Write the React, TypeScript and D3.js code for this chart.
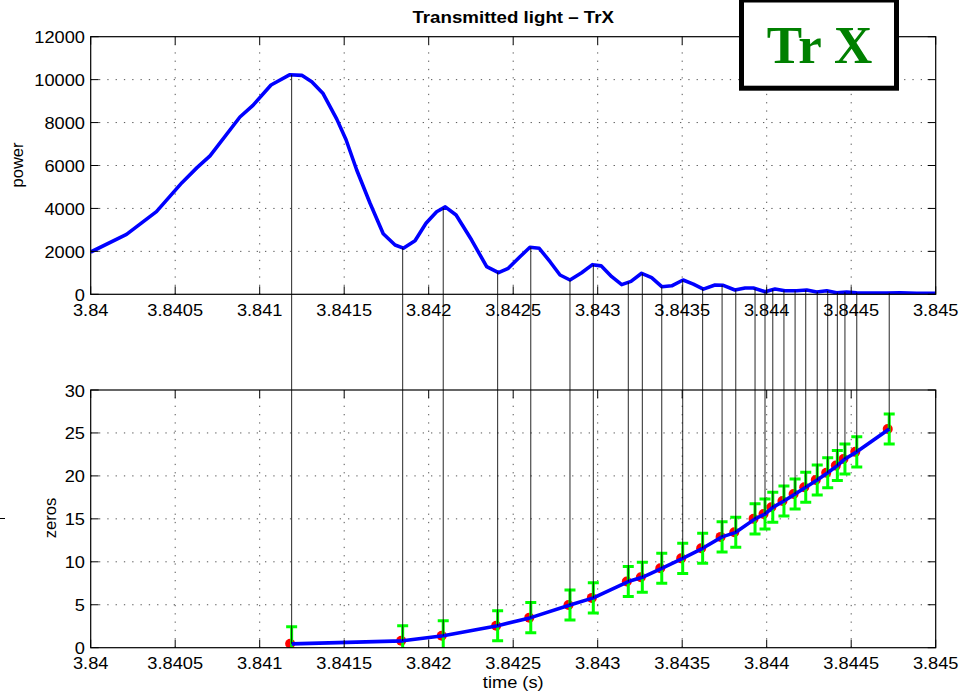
import React from 'react';
import * as d3 from 'd3';

// power curve
const curveTime = [
  3.84, 3.840212, 3.840389, 3.84054, 3.840629, 3.840706, 3.840883, 3.84096, 3.841067, 3.841179,
  3.841249, 3.841308, 3.841375, 3.841456, 3.841511, 3.841574, 3.841653, 3.841731, 3.841801, 3.84185,
  3.841919, 3.841984, 3.842047, 3.842098, 3.842162, 3.842254, 3.842343, 3.842413, 3.842471, 3.84254,
  3.842599, 3.842654, 3.842718, 3.842777, 3.842836, 3.842905, 3.842969, 3.84302, 3.843083, 3.843142,
  3.843197, 3.84326, 3.843319, 3.843379, 3.843438, 3.843505, 3.843566, 3.843625, 3.843694, 3.843743,
  3.843812, 3.843872, 3.843921, 3.84399, 3.844049, 3.844108, 3.844177, 3.844237, 3.844296, 3.844355,
  3.844414, 3.844473, 3.844532, 3.844611, 3.84471, 3.844789, 3.844887, 3.845
];
const curvePower = [
  1970, 2790, 3850, 5200, 5900, 6450, 8260, 8800, 9750, 10230,
  10200, 9900, 9350, 8160, 7200, 5790, 4240, 2820, 2296, 2150,
  2497, 3307, 3847, 4070, 3694, 2529, 1286, 1006, 1211, 1751,
  2189, 2143, 1518, 899, 666, 1006, 1380, 1325, 820, 450,
  600, 978, 773, 354, 395, 666, 473, 240, 433, 419,
  200, 293, 293, 121, 247, 168, 168, 200, 107, 168,
  75, 107, 75, 61, 61, 75, 47, 47
];

// extrema times and zero counts, lower panel
const zeroTime = [
  3.841189, 3.841846, 3.842086, 3.842408, 3.842604, 3.842836, 3.842974, 3.843181, 3.843264, 3.843379,
  3.843503, 3.843621, 3.843736, 3.843817, 3.843931, 3.84399, 3.844036, 3.844102, 3.844168, 3.844231,
  3.844299, 3.844361, 3.844418, 3.844463, 3.844533, 3.844725
];
const zeroCount = [
  0.45, 0.8, 1.4, 2.56, 3.5, 4.97, 5.8, 7.7, 8.2, 9.24,
  10.4, 11.57, 12.9, 13.43, 15.0, 15.56, 16.34, 17.08, 17.9, 18.67,
  19.52, 20.37, 21.2, 21.97, 22.8, 25.45
];
const zeroErr = [
  2.0, 1.75, 1.75, 1.75, 1.75, 1.75, 1.75, 1.75, 1.75, 1.75,
  1.75, 1.75, 1.75, 1.75, 1.75, 1.75, 1.75, 1.75, 1.75, 1.75,
  1.75, 1.75, 1.75, 1.75, 1.75, 1.75
];

const xTicks = [3.84, 3.8405, 3.841, 3.8415, 3.842, 3.8425, 3.843, 3.8435, 3.844, 3.8445, 3.845];
const xTickLabels = ['3.84', '3.8405', '3.841', '3.8415', '3.842', '3.8425', '3.843', '3.8435', '3.844', '3.8445', '3.845'];
const powerTicks = [0, 2000, 4000, 6000, 8000, 10000, 12000];
const zeroTicks = [0, 5, 10, 15, 20, 25, 30];

const W = 973;
const H = 693;
const L = 90.7;
const R = 935.7;
const FONT = '"Liberation Sans", Arial, Helvetica, sans-serif';
const SX = 1.14; // horizontal stretch of the lettering

const x = d3.scaleLinear().domain([3.84, 3.845]).range([L, R]);
const yP = d3.scaleLinear().domain([0, 12000]).range([294.3, 36.7]);
const yZ = d3.scaleLinear().domain([0, 30]).range([647.7, 390]);

const powerAt = (t: number) => {
  const i = Math.max(1, Math.min(curveTime.length - 1, d3.bisectLeft(curveTime, t)));
  const t0 = curveTime[i - 1], t1 = curveTime[i];
  const f = (t - t0) / (t1 - t0);
  return curvePower[i - 1] + f * (curvePower[i] - curvePower[i - 1]);
};

const SText = ({ x, y, anchor = 'middle', size = 16, weight = 'normal', children }: any) => (
  <text
    transform={`translate(${x},${y}) scale(${SX},1)`}
    textAnchor={anchor}
    fontSize={size}
    fontWeight={weight}
    fontFamily={FONT}
    fill="#000"
  >
    {children}
  </text>
);

const Panel = ({ y, ticks, id, children }: any) => {
  const [b, t] = y.range();
  const tick = 8;
  return (
    <g>
      <defs>
        <clipPath id={id}>
          <rect x={L} y={t} width={R - L} height={b - t} />
        </clipPath>
      </defs>
      {/* grid */}
      {xTicks.slice(1, -1).map((v) => (
        <line key={'gx' + v} x1={x(v)} x2={x(v)} y1={b} y2={t} stroke="#555" strokeWidth={1} strokeDasharray="1.3,7" />
      ))}
      {ticks.slice(1, -1).map((v: number) => (
        <line key={'gy' + v} x1={L} x2={R} y1={y(v)} y2={y(v)} stroke="#555" strokeWidth={1} strokeDasharray="1.3,7" />
      ))}
      <g clipPath={`url(#${id})`}>{children}</g>
      {/* ticks */}
      {xTicks.map((v) => (
        <g key={'tx' + v}>
          <line x1={x(v)} x2={x(v)} y1={b} y2={b - tick} stroke="#000" />
          <line x1={x(v)} x2={x(v)} y1={t} y2={t + tick} stroke="#000" />
        </g>
      ))}
      {ticks.map((v: number) => (
        <g key={'ty' + v}>
          <line x1={L} x2={L + tick} y1={y(v)} y2={y(v)} stroke="#000" />
          <line x1={R} x2={R - tick} y1={y(v)} y2={y(v)} stroke="#000" />
        </g>
      ))}
      <rect x={L} y={t} width={R - L} height={b - t} fill="none" stroke="#000" strokeWidth={1.2} />
      {xTicks.map((v, i) => (
        <SText key={'lx' + v} x={x(v)} y={b + 21.5}>{xTickLabels[i]}</SText>
      ))}
      {ticks.map((v: number) => (
        <SText key={'ly' + v} x={85} y={y(v) + 6.5} anchor="end">{String(v)}</SText>
      ))}
    </g>
  );
};

export default function App() {
  const powerLine = d3
    .line<number>()
    .x((_, i) => x(curveTime[i]))
    .y((d) => yP(d))(curvePower);
  const zeroLine = d3
    .line<number>()
    .x((_, i) => x(zeroTime[i]))
    .y((d) => yZ(d))(zeroCount);

  return (
    <svg width={W} height={H} style={{ position: 'absolute', left: 0, top: 0, background: '#fff' }}>
      <rect width={W} height={H} fill="#fff" />

      <Panel y={yP} ticks={powerTicks} id="clipTop">
        <path d={powerLine || ''} fill="none" stroke="#0000ff" strokeWidth={3.6} strokeLinejoin="round" />
      </Panel>

      <Panel y={yZ} ticks={zeroTicks} id="clipBottom">
        {zeroTime.map((t, i) => (
          <circle key={'d' + i} cx={x(t) - 1.5} cy={yZ(zeroCount[i])} r={5} fill="#ff0000" />
        ))}
        {zeroTime.map((t, i) => {
          const cx = x(t);
          const hi = yZ(zeroCount[i] + zeroErr[i]);
          const lo = yZ(zeroCount[i] - zeroErr[i]);
          return (
            <g key={'e' + i} stroke="#00ff00" strokeWidth={3}>
              <line x1={cx} x2={cx} y1={hi} y2={lo} />
              <line x1={cx - 5.5} x2={cx + 5.5} y1={hi} y2={hi} />
              <line x1={cx - 5.5} x2={cx + 5.5} y1={lo} y2={lo} />
            </g>
          );
        })}
        <path d={zeroLine || ''} fill="none" stroke="#0000ff" strokeWidth={3.6} strokeLinejoin="round" />
      </Panel>

      {/* links between the extrema and the zero counts */}
      {zeroTime.map((t, i) => (
        <line
          key={'v' + i}
          x1={x(t)}
          x2={x(t)}
          y1={yP(powerAt(t))}
          y2={yZ(zeroCount[i])}
          stroke="#000"
          strokeWidth={1}
          strokeOpacity={0.85}
        />
      ))}

      <SText x={(L + R) / 2} y={22.7} size={16.4} weight="bold">Transmitted light – TrX</SText>

      <text
        transform="translate(23,165) rotate(-90)"
        textAnchor="middle"
        fontSize={16.5}
        fontFamily={FONT}
      >
        power
      </text>
      <text
        transform="translate(55.5,518) rotate(-90)"
        textAnchor="middle"
        fontSize={16.5}
        fontFamily={FONT}
      >
        zeros
      </text>
      <line x1={0} x2={5} y1={518.5} y2={518.5} stroke="#000" />

      <SText x={(L + R) / 2} y={688}>time (s)</SText>

      <rect x={741.5} y={0} width={155} height={88.2} fill="#fff" stroke="#000" strokeWidth={5} />
      <text
        x={819.5}
        y={63}
        textAnchor="middle"
        fontSize={53}
        fontWeight="bold"
        fontFamily='"Liberation Serif", "Times New Roman", Times, serif'
        fill="#008000"
      >
        Tr X
      </text>
    </svg>
  );
}
